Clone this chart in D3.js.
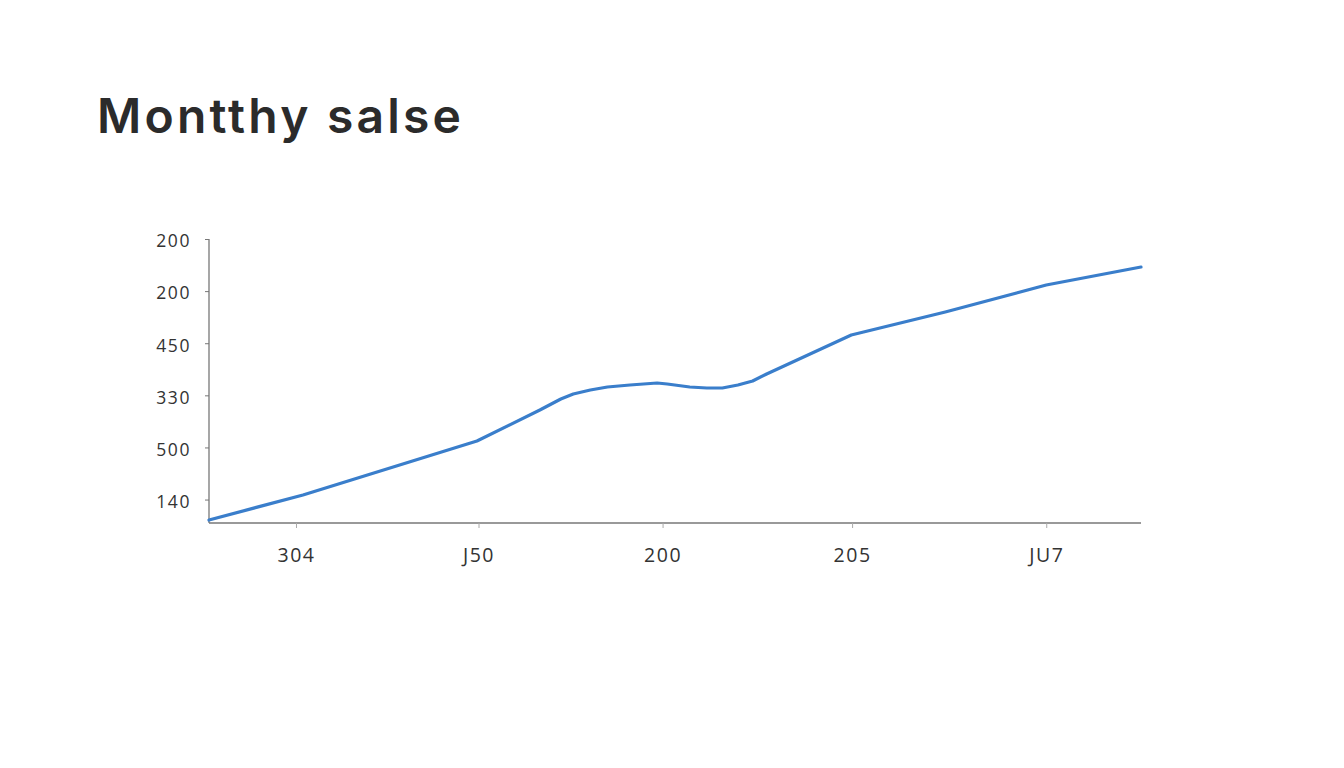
<!DOCTYPE html>
<html>
<head>
<meta charset="utf-8">
<script src="https://cdn.jsdelivr.net/npm/d3@7"></script>
<style>
  html, body { margin: 0; padding: 0; background: #ffffff; }
  svg { display: block; }
</style>
</head>
<body>
<svg id="chart" width="1344" height="768"></svg>
<script>
// ---- data ----
const titleText = "Montthy salse";
const monthPos = [0, 1.21, 3.45, 4.26, 4.53, 4.69, 4.91, 5.13, 5.42, 5.77, 5.90, 6.19, 6.41, 6.61, 6.81, 7.00, 7.18, 8.27, 9.48, 10.78, 12];
const salesValues = [12.15, 21.75, 42.47, 54.37, 58.6, 60.51, 62.05, 63.20, 63.96, 64.73, 64.35, 63.20, 62.81, 62.81, 63.96, 65.50, 68.19, 83.16, 91.98, 102.35, 109.25];
const xTickValues = [1.12, 3.47, 5.84, 8.28, 10.78];
const xTickLabels = ["304", "J50", "200", "205", "JU7"];
const yTickValues = [20, 40, 60, 80, 100, 120];
const yTickLabels = ["140", "500", "330", "450", "200", "200"];

// ---- layout ----
const svg = d3.select("#chart");
const mLeft = 209, mRight = 1141, mTop = 239, mBottom = 523;

const x = d3.scaleLinear().domain([0, 12]).range([mLeft, mRight]);
const y = d3.scaleLinear().domain([11, 120]).range([mBottom, mTop]);

svg.append("text")
  .attr("x", 97).attr("y", 133)
  .attr("font-family", "Inter, 'Open Sans', sans-serif")
  .attr("font-weight", 600)
  .attr("font-size", 48)
  .attr("letter-spacing", 3.2)
  .attr("fill", "#2b2b2b")
  .text(titleText);

const yAxis = d3.axisLeft(y)
  .tickValues(yTickValues)
  .tickSize(4)
  .tickPadding(14)
  .tickFormat((d, i) => yTickLabels[i]);

const gy = svg.append("g")
  .attr("transform", `translate(${mLeft},0)`)
  .call(yAxis);
gy.select(".domain").attr("stroke", "#777").attr("stroke-width", 1.3)
  .attr("d", `M0,${mTop}V${mBottom}`);
gy.selectAll(".tick line").attr("stroke", "#777");
gy.selectAll(".tick text")
  .attr("font-family", "'Open Sans', sans-serif")
  .attr("font-size", 17.5)
  .attr("letter-spacing", 1.6)
  .attr("dy", "0.45em")
  .attr("fill", "#333");

const xAxis = d3.axisBottom(x)
  .tickValues(xTickValues)
  .tickSize(5)
  .tickPadding(20)
  .tickFormat((d, i) => xTickLabels[i]);

const gx = svg.append("g")
  .attr("transform", `translate(0,${mBottom})`)
  .call(xAxis);
gx.select(".domain").attr("stroke", "#777").attr("stroke-width", 1.3)
  .attr("d", `M${mLeft},0H${mRight}`);
gx.selectAll(".tick line").attr("stroke", "#aaa");
gx.selectAll(".tick text")
  .attr("font-family", "'Open Sans', sans-serif")
  .attr("font-size", 19.5)
  .attr("letter-spacing", 1.5)
  .attr("fill", "#333");

const pts = monthPos.map((m, i) => [m, salesValues[i]]);
const line = d3.line()
  .x(d => x(d[0]))
  .y(d => y(d[1]))
  .curve(d3.curveLinear);

svg.append("path")
  .datum(pts)
  .attr("fill", "none")
  .attr("stroke", "#3a7ecb")
  .attr("stroke-width", 3.2)
  .attr("stroke-linejoin", "round")
  .attr("stroke-linecap", "round")
  .attr("d", line);
</script>
</body>
</html>
